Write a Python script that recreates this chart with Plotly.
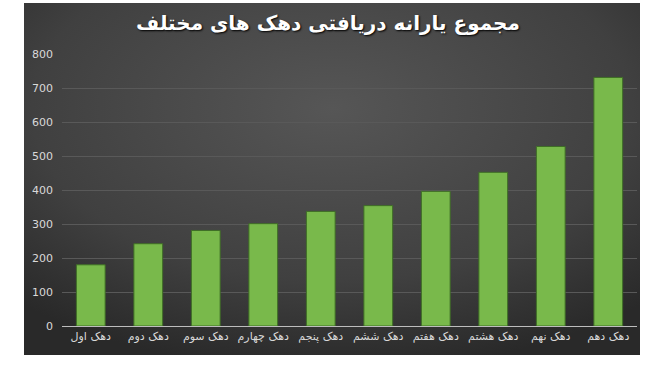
import plotly.graph_objects as go
import urllib.parse

categories = ["دهک اول", "دهک دوم", "دهک سوم", "دهک چهارم", "دهک پنجم",
              "دهک ششم", "دهک هفتم", "دهک هشتم", "دهک نهم", "دهک دهم"]
values = [180, 242, 281, 301, 337, 354, 396, 452, 528, 731]
y_ticks = [0, 100, 200, 300, 400, 500, 600, 700, 800]
title_text = "مجموع یارانه دریافتی دهک های مختلف"

W, H = 648, 368
L, R, T, B = 62, 11, 54, 42
pw, ph = W - L - R, H - T - B

svg = ('<svg xmlns="http://www.w3.org/2000/svg" width="616" height="352" viewBox="0 0 616 352" preserveAspectRatio="none">'
       '<defs><radialGradient id="g" cx="50%" cy="30%" r="75%">'
       '<stop offset="0%" stop-color="#565656"/>'
       '<stop offset="65%" stop-color="#404040"/>'
       '<stop offset="100%" stop-color="#292929"/>'
       '</radialGradient></defs>'
       '<rect width="616" height="352" fill="url(#g)"/></svg>')
src = "data:image/svg+xml;charset=utf-8," + urllib.parse.quote(svg)

bx0, bx1, by0, by1 = 24, 640, 3, 355
img_x = (bx0 - L) / pw
img_y = (H - B - by0) / ph
img_sx = (bx1 - bx0) / pw
img_sy = (by1 - by0) / ph

fig = go.Figure()
fig.add_trace(go.Bar(
    x=categories, y=values, width=0.5,
    marker=dict(color="#79b94b", line=dict(color="#3f6e26", width=1)),
    hoverinfo="skip",
))

fig.update_layout(
    width=W, height=H,
    margin=dict(l=L, r=R, t=T, b=B),
    paper_bgcolor="white",
    plot_bgcolor="rgba(0,0,0,0)",
    showlegend=False,
    images=[dict(source=src, xref="paper", yref="paper", x=img_x, y=img_y,
                 sizex=img_sx, sizey=img_sy, xanchor="left", yanchor="top",
                 sizing="stretch", layer="below")],
    title=dict(text="<b>" + title_text + "</b>", x=328 / W, xanchor="center",
               y=1 - 23 / H, yanchor="middle",
               font=dict(family="DejaVu Sans", size=20, color="white",
                         shadow="1px 1px 2px #000000")),
    xaxis=dict(showgrid=False, tickfont=dict(family="DejaVu Sans", size=11, color="#d9d9d9"),
               ticks="", showline=True, linecolor="#bdbdbd", linewidth=1),
    yaxis=dict(range=[0, 800], tickvals=y_ticks, showgrid=True, gridcolor="#595959",
               gridwidth=1, zeroline=False,
               tickfont=dict(family="DejaVu Sans", size=11, color="#d9d9d9"),
               ticks="", ticklabelstandoff=8),
    bargap=0.5,
)

fig.write_html("out.html")
